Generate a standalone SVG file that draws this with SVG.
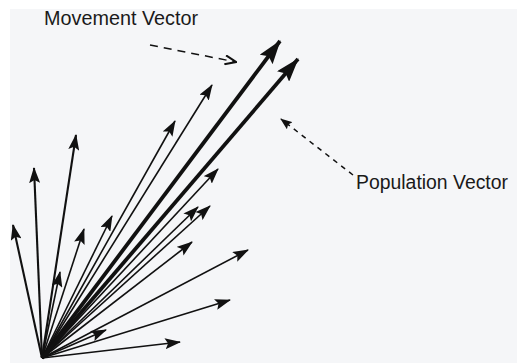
<svg xmlns="http://www.w3.org/2000/svg" width="517" height="363" viewBox="0 0 517 363">
  <style>
    .v { stroke: #111; stroke-width: 1.6; fill: none; marker-end: url(#head); }
    .vm { stroke: #111; stroke-width: 2.1; fill: none; marker-end: url(#head); }
    .vt { stroke: #111; stroke-width: 3.8; fill: none; marker-end: url(#headBig); }
    .lbl { font-family: "Liberation Sans", Arial, sans-serif; font-size: 20px; fill: #1a1a1a; }
    .dash { stroke: #111; stroke-width: 1.5; fill: none; }
  </style>
  <defs>
    <marker id="head" viewBox="0 0 16 11" refX="15" refY="5.5" markerWidth="16" markerHeight="11" markerUnits="userSpaceOnUse" orient="auto">
      <path d="M0,0 L16,5.5 L0,11 L3,5.5 Z" fill="#111"/>
    </marker>
    <marker id="headBig" viewBox="0 0 24 16" refX="23" refY="8" markerWidth="24" markerHeight="16" markerUnits="userSpaceOnUse" orient="auto">
      <path d="M0,0 L24,8 L0,16 L4,8 Z" fill="#111"/>
    </marker>
    <marker id="openHead" viewBox="0 0 13 11" refX="12" refY="5.5" markerWidth="13" markerHeight="11" markerUnits="userSpaceOnUse" orient="auto">
      <path d="M1,1 L12,5.5 L1,10" fill="none" stroke="#111" stroke-width="2"/>
    </marker>
    <marker id="smallHead" viewBox="0 0 12 9" refX="11" refY="4.5" markerWidth="12" markerHeight="9" markerUnits="userSpaceOnUse" orient="auto">
      <path d="M0,0 L12,4.5 L0,9 L2,4.5 Z" fill="#111"/>
    </marker>
  </defs>

  <rect id="panel" x="10" y="9" width="507" height="354" fill="#f5f6f8"/>

  <g id="vectors">
    <line class="vm" x1="42" y1="358" x2="13" y2="225"/>
    <line class="vm" x1="42" y1="358" x2="34" y2="168"/>
    <line class="vm" x1="42" y1="358" x2="76" y2="135"/>
    <line class="v" x1="42" y1="358" x2="84" y2="229"/>
    <line class="v" x1="42" y1="358" x2="60" y2="272"/>
    <line class="v" x1="42" y1="358" x2="112" y2="216"/>
    <line class="v" x1="42" y1="358" x2="175" y2="121"/>
    <line class="v" x1="42" y1="358" x2="212" y2="85"/>
    <line class="v" x1="42" y1="358" x2="218" y2="169"/>
    <line class="v" x1="42" y1="358" x2="198" y2="207"/>
    <line class="v" x1="42" y1="358" x2="210" y2="206"/>
    <line class="v" x1="42" y1="358" x2="192" y2="242"/>
    <line class="v" x1="42" y1="358" x2="248" y2="250"/>
    <line class="v" x1="42" y1="358" x2="230" y2="300"/>
    <line class="v" x1="42" y1="358" x2="180" y2="342"/>
    <line class="v" x1="42" y1="358" x2="106" y2="330"/>
  </g>

  <g id="movement-vector">
    <line class="vt" x1="42" y1="358" x2="280" y2="41"/>
    <text class="lbl" x="44" y="25" textLength="154" lengthAdjust="spacingAndGlyphs">Movement Vector</text>
  </g>

  <g id="population-vector">
    <line class="vt" x1="42" y1="358" x2="298" y2="59"/>
    <text class="lbl" x="356" y="189" textLength="152" lengthAdjust="spacingAndGlyphs">Population Vector</text>
  </g>

  <g id="connectors">
    <line class="dash" x1="150" y1="45" x2="236" y2="62" stroke-dasharray="8,6" marker-end="url(#openHead)"/>
    <line class="dash" x1="353" y1="175" x2="281" y2="119" stroke-dasharray="5,5" marker-end="url(#smallHead)"/>
  </g>
</svg>
